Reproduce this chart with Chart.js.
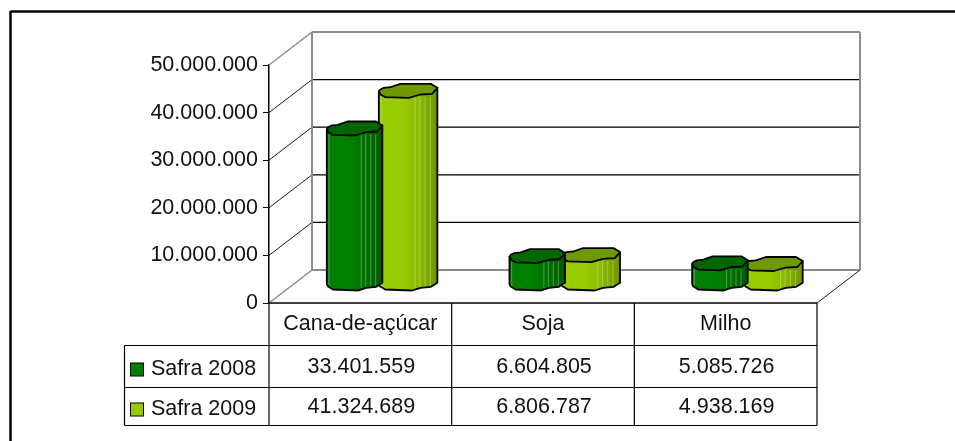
<!DOCTYPE html>
<html>
<head>
<meta charset="utf-8">
<style>
  html, body { margin: 0; padding: 0; background: #fff; }
  #wrap { position: relative; width: 955px; height: 441px; overflow: hidden; }
  canvas { position: absolute; left: 0; top: 0; }
</style>
<script src="https://cdn.jsdelivr.net/npm/chart.js@4/dist/chart.umd.js"></script>
</head>
<body>
<div id="wrap"><canvas id="c" width="955" height="441"></canvas></div>
<script>
const categories = ['Cana-de-açúcar', 'Soja', 'Milho'];
const seriesNames = ['Safra 2008', 'Safra 2009'];
const safra2008 = [33401559, 6604805, 5085726];
const safra2009 = [41324689, 6806787, 4938169];
const yTicks = [0, 10000000, 20000000, 30000000, 40000000, 50000000];

const font = '21.5px "Liberation Sans"';
const depthX = 43, depthY = -33;   // back wall offset
const barX = 22, barY = -15.5;     // bars sit halfway in depth
const rowLines = [345.5, 387.5, 425.5];
const tableLeft = 124.5;

// lumpy column outline, [fraction of width, y offset]
const capTop = [[0, 0.7], [0.017, -0.9], [0.086, -3], [0.2, -3.6], [0.37, -7], [0.886, -7], [1, -3]];
const capBottom = [[0.91, 3], [0.71, 3.7], [0.51, 7], [0.11, 6.3], [0.03, 3.7]];
const footEdge = [[1, -4.2], [0.89, -0.2], [0.71, 0.8], [0.57, 3.5], [0.11, 2.5], [0.017, -0.8]];
const streaks = [0.04, 0.62, 0.7, 0.79, 0.88];

function fmt(v) {
    return String(v).replace(/\B(?=(\d{3})+(?!\d))/g, '.');
}

function line(ctx, x1, y1, x2, y2, color, w) {
    ctx.strokeStyle = color;
    ctx.lineWidth = w;
    ctx.beginPath();
    ctx.moveTo(x1, y1);
    ctx.lineTo(x2, y2);
    ctx.stroke();
}

// outer frame, walls and gridlines, all from the y scale
const walls = {
    id: 'walls',
    beforeDatasetsDraw(chart) {
        const ctx = chart.ctx, a = chart.chartArea, y = chart.scales.y;
        const bl = a.left + depthX, br = a.right + depthX;
        const grey = '#8c8c8c';
        ctx.save();
        line(ctx, 10.5, 11.5, 955, 11.5, '#000', 2.5);
        line(ctx, 10.5, 11, 10.5, 441, '#000', 2.5);
        yTicks.forEach(t => {
            const py = y.getPixelForValue(t);
            const edge = t === 0 || t === 50000000;
            line(ctx, bl, py + depthY, br, py + depthY, edge ? grey : '#000', edge ? 2 : 1.2);
            line(ctx, a.left, py, bl, py + depthY, edge ? grey : '#000', edge ? 1.5 : 0.9);
        });
        const top = y.getPixelForValue(50000000) + depthY, bot = y.getPixelForValue(0) + depthY;
        line(ctx, bl, top, bl, bot, grey, 2);
        line(ctx, br, top, br, bot, grey, 2);
        line(ctx, a.right, a.bottom, br, bot, '#000', 0.9);
        ctx.restore();
    }
};

const columns = {
    id: 'columns',
    afterDatasetDraw(chart, args) {
        const ctx = chart.ctx;
        const meta = chart.getDatasetMeta(args.index);
        const ds = chart.data.datasets[args.index];
        const base = ds.shade;
        ctx.save();
        ctx.translate(barX, barY);
        ctx.lineJoin = 'round';
        meta.data.forEach(bar => {
            // the front series wraps a little over the one behind it
            const w = bar.width + ds.wrap, x = bar.x - bar.width / 2 - ds.wrap - (ds.wrap ? 0.5 : 0), yc = bar.y, yb = bar.base;
            const g = ctx.createLinearGradient(x, 0, x + w, 0);
            g.addColorStop(0, base[0]);
            g.addColorStop(0.4, base[0]);
            g.addColorStop(0.7, base[1]);
            g.addColorStop(1, base[2]);
            const outline = () => {
                ctx.beginPath();
                ctx.moveTo(x, yc + 0.7);
                ctx.lineTo(x + w, yc - 3);
                footEdge.forEach(p => ctx.lineTo(x + p[0] * w, yb + p[1]));
                ctx.lineTo(x, yb - 3);
                ctx.closePath();
            };
            // body
            outline();
            ctx.fillStyle = g;
            ctx.fill();
            streaks.forEach(f => {
                line(ctx, x + w * f, yc + 6, x + w * f, yb + 1, 'rgba(255,255,255,0.3)', 1);
            });
            outline();
            ctx.strokeStyle = '#000';
            ctx.lineWidth = 1.8;
            ctx.stroke();
            // top cap
            ctx.beginPath();
            capTop.concat(capBottom).forEach((p, i) => {
                if (i === 0) ctx.moveTo(x + p[0] * w, yc + p[1]);
                else ctx.lineTo(x + p[0] * w, yc + p[1]);
            });
            ctx.closePath();
            ctx.fillStyle = base[3];
            ctx.fill();
            ctx.stroke();
        });
        ctx.restore();
    }
};

// data table under the axis, columns follow the category scale
const table = {
    id: 'table',
    afterDraw(chart) {
        const ctx = chart.ctx, a = chart.chartArea, xs = chart.scales.x;
        const step = (a.right - a.left) / categories.length;
        const rows = [safra2008, safra2009];
        const keys = chart.data.datasets.map(d => d.shade[0]);
        ctx.save();
        line(ctx, a.left, a.bottom, a.right, a.bottom, '#000', 1.5);
        line(ctx, tableLeft, rowLines[0], a.right, rowLines[0], '#000', 1.2);
        line(ctx, tableLeft, rowLines[1], a.right, rowLines[1], '#000', 1.2);
        line(ctx, tableLeft, rowLines[2], a.right, rowLines[2], '#000', 1.2);
        line(ctx, tableLeft, rowLines[0], tableLeft, rowLines[2], '#000', 1.2);
        for (let i = 0; i <= categories.length; i++) {
            line(ctx, a.left + i * step, a.bottom, a.left + i * step, rowLines[2], '#000', 1.2);
        }
        ctx.font = font;
        ctx.fillStyle = '#111';
        ctx.textBaseline = 'middle';
        rows.forEach((row, r) => {
            const mid = (rowLines[r] + rowLines[r + 1]) / 2;
            ctx.textAlign = 'center';
            row.forEach((v, i) => ctx.fillText(fmt(v), xs.getPixelForValue(i) + 1, mid + 0.5));
            ctx.textAlign = 'left';
            ctx.fillText(seriesNames[r], 151, mid + 2.5);
            ctx.fillStyle = keys[r];
            ctx.fillRect(130.5, mid - 3.5, 13, 13);
            ctx.strokeStyle = '#000';
            ctx.lineWidth = 1;
            ctx.strokeRect(130.5, mid - 3.5, 13, 13);
            ctx.fillStyle = '#111';
        });
        ctx.restore();
    }
};

new Chart(document.getElementById('c'), {
    type: 'bar',
    data: {
        labels: categories,
        datasets: [
            { label: seriesNames[0], data: safra2008, backgroundColor: 'transparent', clip: false, wrap: 0,
              shade: ['#008000', '#007000', '#005c00', '#006600'] },
            { label: seriesNames[1], data: safra2009, backgroundColor: 'transparent', clip: false, wrap: 3,
              shade: ['#99cc00', '#8ab800', '#6f9400', '#709900'] }
        ]
    },
    plugins: [walls, columns, table],
    options: {
        responsive: false,
        animation: false,
        layout: { padding: { left: 0, right: 138, top: 65, bottom: 96 } },
        plugins: { legend: { display: false }, title: { display: false }, tooltip: { enabled: false } },
        datasets: { bar: { categoryPercentage: 0.608, barPercentage: 1 } },
        scales: {
            x: {
                afterFit(s) { s.height = 42; },
                grid: { display: false, drawTicks: false },
                border: { display: false },
                ticks: { color: '#111', font: { family: 'Liberation Sans', size: 21.5 }, padding: 8, maxRotation: 0 }
            },
            y: {
                min: 0,
                max: 50000000,
                afterFit(s) { s.width = 269; },
                afterBuildTicks(s) { s.ticks = yTicks.map(v => ({ value: v })); },
                grid: { drawOnChartArea: false, color: '#000', tickLength: 6 },
                border: { color: '#000', width: 1.5 },
                ticks: { color: '#111', font: { family: 'Liberation Sans', size: 21.5 }, padding: 5, callback: v => fmt(v) }
            }
        }
    }
});
</script>
</body>
</html>
